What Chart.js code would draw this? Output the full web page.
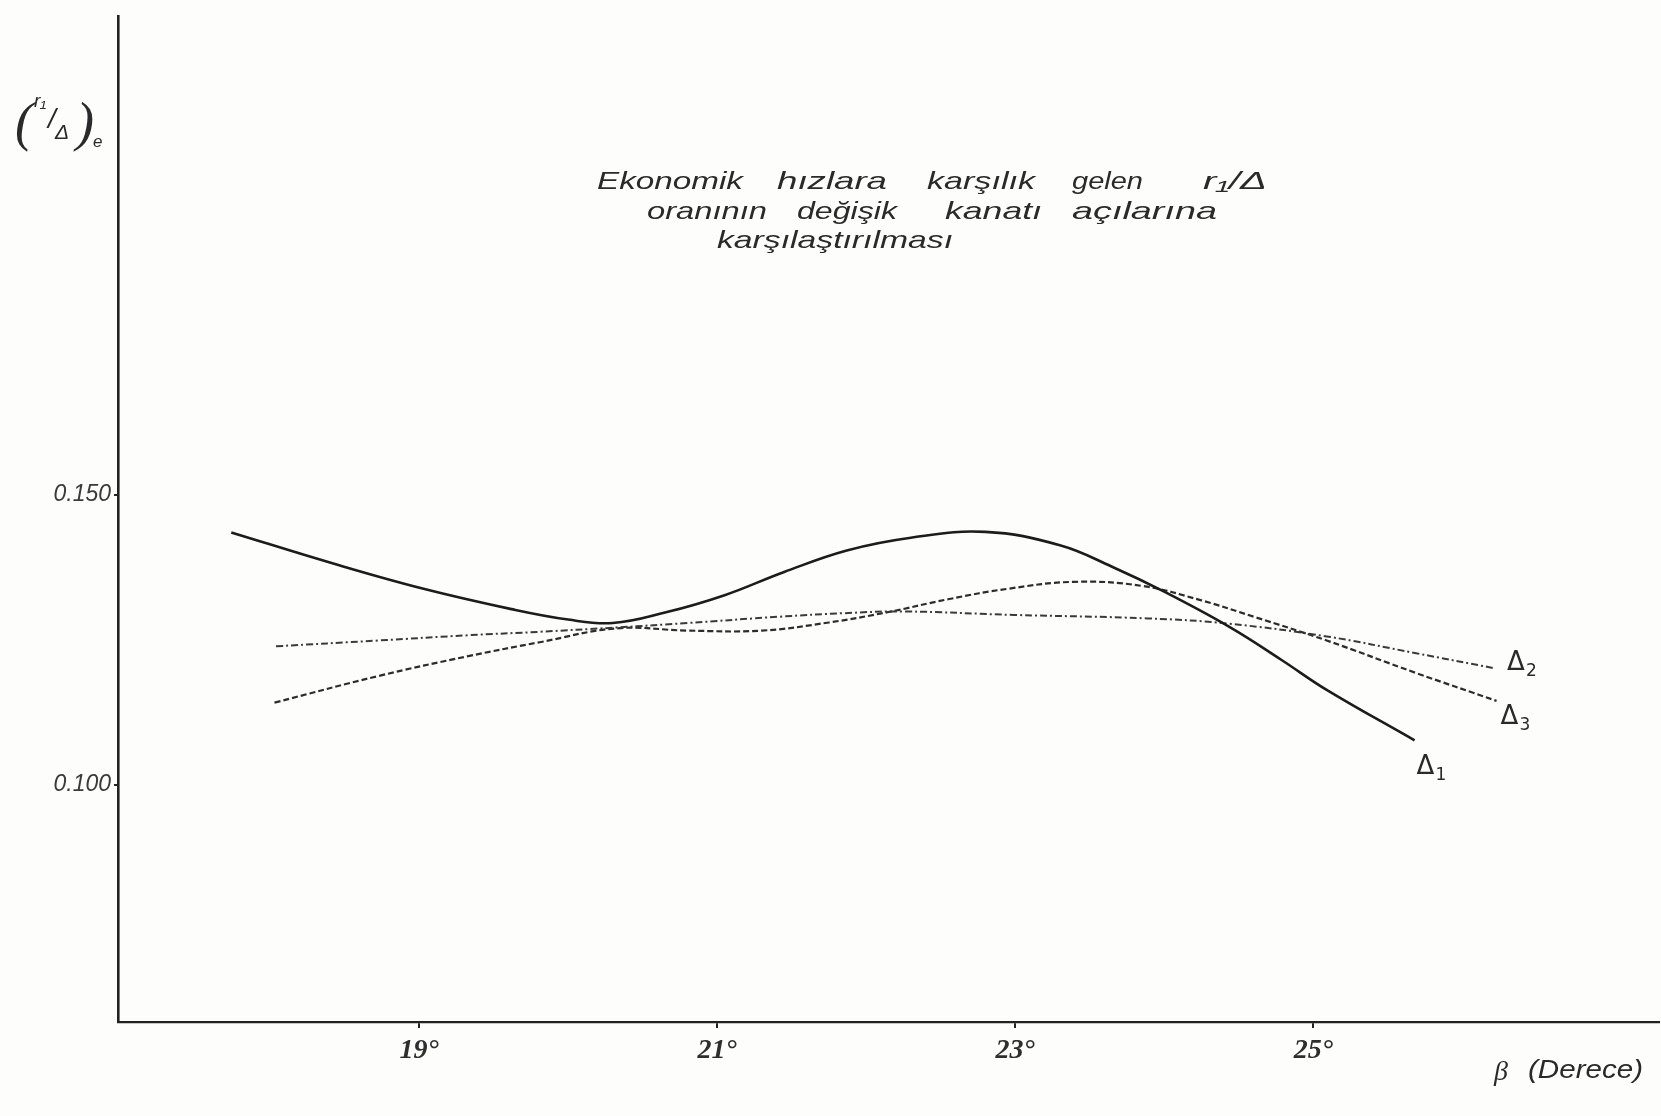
<!DOCTYPE html>
<html>
<head>
<meta charset="utf-8">
<script src="https://cdn.jsdelivr.net/npm/chart.js@4.4.1/dist/chart.umd.min.js"></script>
<style>
  html, body { margin: 0; padding: 0; background: #fdfdfb; }
  #wrap { width: 1661px; height: 1116px; }
</style>
</head>
<body>
<div id="wrap"><canvas id="chart" width="1661" height="1116"></canvas></div>
<script>
// kanat açısı (derece) / r1/Δ değerleri
const delta1X = [17.74, 18.43, 19.03, 19.62, 20.0, 20.3, 20.65, 21.05, 21.45, 21.87, 22.3, 22.8, 23.3, 23.65, 24.0, 24.44, 24.79, 25.09, 25.68];
const delta1Y = [0.1435, 0.1381, 0.1338, 0.1303, 0.1285, 0.1279, 0.1297, 0.1327, 0.1367, 0.1404, 0.1426, 0.1436, 0.1413, 0.1376, 0.1333, 0.1272, 0.1215, 0.1164, 0.1077];

const delta2X = [18.04, 18.73, 19.33, 19.81, 20.3, 20.8, 21.42, 21.85, 22.25, 22.99, 23.89, 24.43, 25.09, 25.69, 26.22];
const delta2Y = [0.1239, 0.1249, 0.1258, 0.1264, 0.1271, 0.1279, 0.1290, 0.1296, 0.1299, 0.1293, 0.1287, 0.1278, 0.1256, 0.1227, 0.1201];

const delta3X = [18.03, 18.73, 19.33, 19.81, 20.33, 20.8, 21.3, 21.75, 22.15, 22.55, 22.95, 23.4, 23.85, 24.25, 24.6, 25.09, 25.69, 26.23];
const delta3Y = [0.1142, 0.1188, 0.1222, 0.1246, 0.1270, 0.1266, 0.1266, 0.1280, 0.1298, 0.1320, 0.1338, 0.1350, 0.1343, 0.1318, 0.1290, 0.1249, 0.1193, 0.1145];

const xTicks = [19, 21, 23, 25];
const yTicks = [0.100, 0.150];
const seriesNames = ['Δ1', 'Δ2', 'Δ3'];

const titleLines = [
    ['Ekonomik', 'hızlara', 'karşılık', 'gelen', 'r₁/Δ'],
    ['oranının', 'değişik', 'kanatı', 'açılarına'],
    ['karşılaştırılması']
];

const ink = '#222';

function pts(xs, ys) { return xs.map((x, i) => ({ x: x, y: ys[i] })); }

// kelimeyi verilen genişliğe sığdırarak yaz
function fitWord(c, word, x, y, w) {
    const m = c.measureText(word).width;
    c.save();
    c.translate(x, y);
    c.scale(w / m, 1);
    c.fillText(word, 0, 0);
    c.restore();
}

// arka plan + el yazısı metinler
const paperPlugin = {
    id: 'paper',
    beforeDraw(chart) {
        const c = chart.ctx;
        c.save();
        c.fillStyle = '#fdfdfb';
        c.fillRect(0, 0, chart.width, chart.height);
        c.restore();
    },
    afterDraw(chart) {
        const c = chart.ctx;
        c.save();
        c.fillStyle = '#2a2a2a';
        c.textBaseline = 'alphabetic';

        // başlık, kelime kelime (başlangıç x, genişlik)
        const wordBox = [
            [[597, 146], [777, 110], [927, 108], [1072, 71], [1203, 64]],
            [[647, 120], [797, 100], [945, 97], [1072, 145]],
            [[717, 236]]
        ];
        const lineY = [189, 219, 248];
        c.font = 'italic 24px "Liberation Sans"';
        titleLines.forEach((line, li) => {
            line.forEach((w, wi) => fitWord(c, w, wordBox[li][wi][0], lineY[li], wordBox[li][wi][1]));
        });

        // y ekseni başlığı (r1/Δ)e
        c.font = 'italic 54px "Liberation Serif"';
        c.fillText('(', 15, 140);
        c.fillText(')', 76, 140);
        c.font = 'italic 19px "Liberation Sans"';
        c.fillText('r₁', 34, 107);
        c.font = 'italic 28px "Liberation Sans"';
        c.fillText('/', 48, 128);
        c.font = 'italic 21px "Liberation Sans"';
        c.fillText('Δ', 55, 139);
        c.font = 'italic 17px "Liberation Sans"';
        c.fillText('e', 93, 147);

        // x ekseni başlığı
        c.font = 'italic 28px "Liberation Serif"';
        c.fillText('β', 1494, 1080);
        c.font = 'italic 25px "Liberation Sans"';
        fitWord(c, '(Derece)', 1528, 1078, 115);

        // eğri uç etiketleri
        const offs = [[2, 34], [12, 2], [4, 23]];
        chart.data.datasets.forEach((ds, i) => {
            const meta = chart.getDatasetMeta(i);
            const last = meta.data[meta.data.length - 1];
            const lx = last.x + offs[i][0], ly = last.y + offs[i][1];
            c.font = '26px "DejaVu Sans"';
            c.fillText('Δ', lx, ly);
            c.font = '17px "DejaVu Sans"';
            c.fillText(seriesNames[i].slice(1), lx + 19, ly + 6);
        });
        c.restore();
    }
};

new Chart(document.querySelector('#chart').getContext('2d'), {
    type: 'line',
    data: {
        datasets: [
            { label: seriesNames[0], data: pts(delta1X, delta1Y), borderColor: '#1c1c1c', borderWidth: 2.6 },
            { label: seriesNames[1], data: pts(delta2X, delta2Y), borderColor: '#3a3a3a', borderWidth: 2, borderDash: [7, 3, 2, 3] },
            { label: seriesNames[2], data: pts(delta3X, delta3Y), borderColor: '#2c2c2c', borderWidth: 2.2, borderDash: [6, 3] }
        ]
    },
    options: {
        responsive: false,
        animation: false,
        elements: { point: { radius: 0 }, line: { tension: 0.4, fill: false } },
        layout: { padding: { left: 0, top: 8, right: 2, bottom: 0 } },
        plugins: { legend: { display: false }, tooltip: { enabled: false }, title: { display: false } },
        scales: {
            x: {
                type: 'linear',
                min: 16.98,
                max: 27.32,
                afterFit: s => { s.height = 94; },
                afterBuildTicks: s => { s.ticks = xTicks.map(v => ({ value: v })); },
                border: { color: ink, width: 2.2, dash: [9, 3] },
                grid: { drawOnChartArea: false, color: ink, tickLength: 6, lineWidth: 2 },
                ticks: {
                    autoSkip: false,
                    padding: 6,
                    color: '#2e2e2e',
                    font: { family: 'Liberation Serif', size: 28, style: 'italic', weight: 'bold' },
                    callback: v => v + '°'
                }
            },
            y: {
                type: 'linear',
                min: 0.0592,
                max: 0.2323,
                afterFit: s => { s.width = 118; },
                afterBuildTicks: s => { s.ticks = yTicks.map(v => ({ value: v })); },
                border: { color: ink, width: 2.6 },
                grid: { drawOnChartArea: false, color: ink, tickLength: 4, lineWidth: 2 },
                ticks: {
                    autoSkip: false,
                    padding: 3,
                    color: '#3a3a3a',
                    font: { family: 'Liberation Sans', size: 23, style: 'italic' },
                    callback: v => v.toFixed(3)
                }
            }
        }
    },
    plugins: [paperPlugin]
});
</script>
</body>
</html>
